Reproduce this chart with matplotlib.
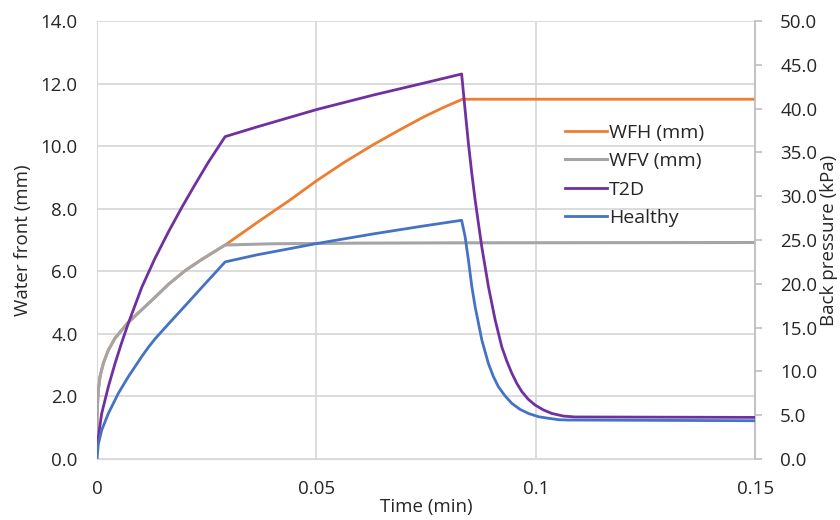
import matplotlib.pyplot as plt
from matplotlib.ticker import FormatStrFormatter

plt.rcParams['font.family'] = ['Open Sans', 'DejaVu Sans']

# water front, horizontal and vertical (mm), shared rise until the break at ~0.029 min
wf_t = [0, 0.00005, 0.0003, 0.00068, 0.00144, 0.00258, 0.0041, 0.00563,
        0.00714, 0.00942, 0.01094, 0.01322, 0.01626, 0.02007, 0.02388, 0.0292]
wf_rise = [0.9, 1.6, 2.2, 2.63, 3.06, 3.48, 3.86, 4.12,
           4.37, 4.67, 4.87, 5.17, 5.58, 6.02, 6.38, 6.84]

wfh_t = wf_t + [0.0364, 0.044, 0.0501, 0.0562, 0.063, 0.0691, 0.0744,
                0.079, 0.0833, 0.15]
wfh = wf_rise + [7.55, 8.28, 8.9, 9.47, 10.05, 10.53, 10.93,
                 11.24, 11.5, 11.5]

wfv_t = wf_t + [0.04, 0.06, 0.0833, 0.15]
wfv = wf_rise + [6.88, 6.9, 6.91, 6.92]

# back pressure (kPa)
t2d_t = [0, 0.00107, 0.00258, 0.0041, 0.00563, 0.00714, 0.0102,
         0.0132, 0.01625, 0.0193, 0.0223, 0.0254, 0.0292,
         0.0364, 0.0501, 0.063, 0.0744, 0.0831,
         0.0839, 0.08465, 0.08542, 0.08617, 0.08693, 0.0877, 0.0892,
         0.09073, 0.09225, 0.09338, 0.09453, 0.09567, 0.09681, 0.09832,
         0.09985, 0.10174, 0.10366, 0.1063, 0.10897, 0.15]
t2d = [1.5, 5.2, 8.25, 10.9, 13.3, 15.5, 19.6,
       22.9, 25.9, 28.7, 31.3, 33.9, 36.8,
       37.9, 39.9, 41.55, 42.9, 43.95,
       39.8, 36.0, 32.6, 29.6, 26.9, 24.2, 19.7,
       15.9, 12.8, 11.2, 9.8, 8.64, 7.7, 6.8,
       6.16, 5.6, 5.2, 4.9, 4.8, 4.75]

healthy_t = [0, 0.0003, 0.00107, 0.00258, 0.00486, 0.00714, 0.0102, 0.0117,
             0.0132, 0.01625, 0.0201, 0.0239, 0.0271, 0.0292,
             0.0364, 0.0501, 0.063, 0.0744, 0.0831,
             0.08389, 0.08465, 0.08542, 0.08617, 0.0877, 0.0892, 0.09035,
             0.09148, 0.093, 0.09453, 0.0964, 0.09832, 0.1006, 0.10288,
             0.10516, 0.10707, 0.15]
healthy = [0, 1.7, 3.3, 5.2, 7.5, 9.4, 11.7, 12.75,
           13.7, 15.4, 17.5, 19.6, 21.35, 22.5,
           23.3, 24.6, 25.7, 26.6, 27.25,
           25.4, 22.7, 19.7, 17.4, 13.6, 10.9, 9.4,
           8.25, 7.2, 6.36, 5.67, 5.2, 4.83, 4.65,
           4.49, 4.45, 4.37]

orange = '#ED7D31'
gray = '#A5A5A5'
purple = '#7030A0'
blue = '#4472C4'
grid_c = '#D9D9D9'
text_c = '#262626'
fs = 13.5

fig = plt.figure(figsize=(8.4, 5.2), dpi=100)
ax = fig.add_axes([0.1155, 0.1173, 0.7835, 0.8423])
ax2 = ax.twinx()

l1, = ax.plot(wfh_t, wfh, color=orange, lw=2, label='WFH (mm)', zorder=3,
              solid_joinstyle='round')
l2, = ax.plot(wfv_t, wfv, color=gray, lw=2.2, label='WFV (mm)', zorder=4,
              solid_joinstyle='round')
l3, = ax2.plot(t2d_t, t2d, color=purple, lw=2, label='T2D', zorder=3,
               solid_joinstyle='round')
l4, = ax2.plot(healthy_t, healthy, color=blue, lw=2, label='Healthy',
               zorder=3, solid_joinstyle='round')

ax.set_xlim(0, 0.15)
ax.set_ylim(0, 14)
ax2.set_ylim(0, 50)
ax.set_xticks([0, 0.05, 0.1, 0.15])
ax.set_xticklabels(['0', '0.05', '0.1', '0.15'])
ax.set_yticks(range(0, 15, 2))
ax2.set_yticks(range(0, 51, 5))
ax.yaxis.set_major_formatter(FormatStrFormatter('%.1f'))
ax2.yaxis.set_major_formatter(FormatStrFormatter('%.1f'))

ax.grid(True, color=grid_c, lw=1.3)
ax.set_axisbelow(True)
for s in ['top', 'right']:
    ax.spines[s].set_visible(False)
    ax2.spines[s].set_visible(s == 'right')
ax.spines['left'].set_color(grid_c)
ax.spines['bottom'].set_color(grid_c)
ax2.spines['left'].set_visible(False)
ax2.spines['bottom'].set_visible(False)
ax2.spines['right'].set_color('#BFBFBF')
ax2.spines['right'].set_linewidth(1.3)

ax.tick_params(axis='y', length=0, labelsize=fs, colors=text_c, pad=14)
ax.tick_params(axis='x', length=0, labelsize=fs, colors=text_c, pad=15)
ax2.tick_params(axis='y', length=5, width=1.2, color='#BFBFBF',
                labelsize=fs, labelcolor=text_c, pad=13)

ax.set_xlabel('Time (min)', fontsize=fs, color=text_c, labelpad=0)
ax.set_ylabel('Water front (mm)', fontsize=fs, color=text_c, labelpad=6)
ax2.set_ylabel('Back pressure (kPa)', fontsize=fs, color=text_c, labelpad=2)

ax2.legend(handles=[l1, l2, l3, l4], loc='upper left',
           bbox_to_anchor=(0.685, 0.805), frameon=False, fontsize=14,
           handlelength=2.15, handletextpad=0.1, labelspacing=0.53,
           labelcolor=text_c)

fig.savefig('out.png', dpi=100)
